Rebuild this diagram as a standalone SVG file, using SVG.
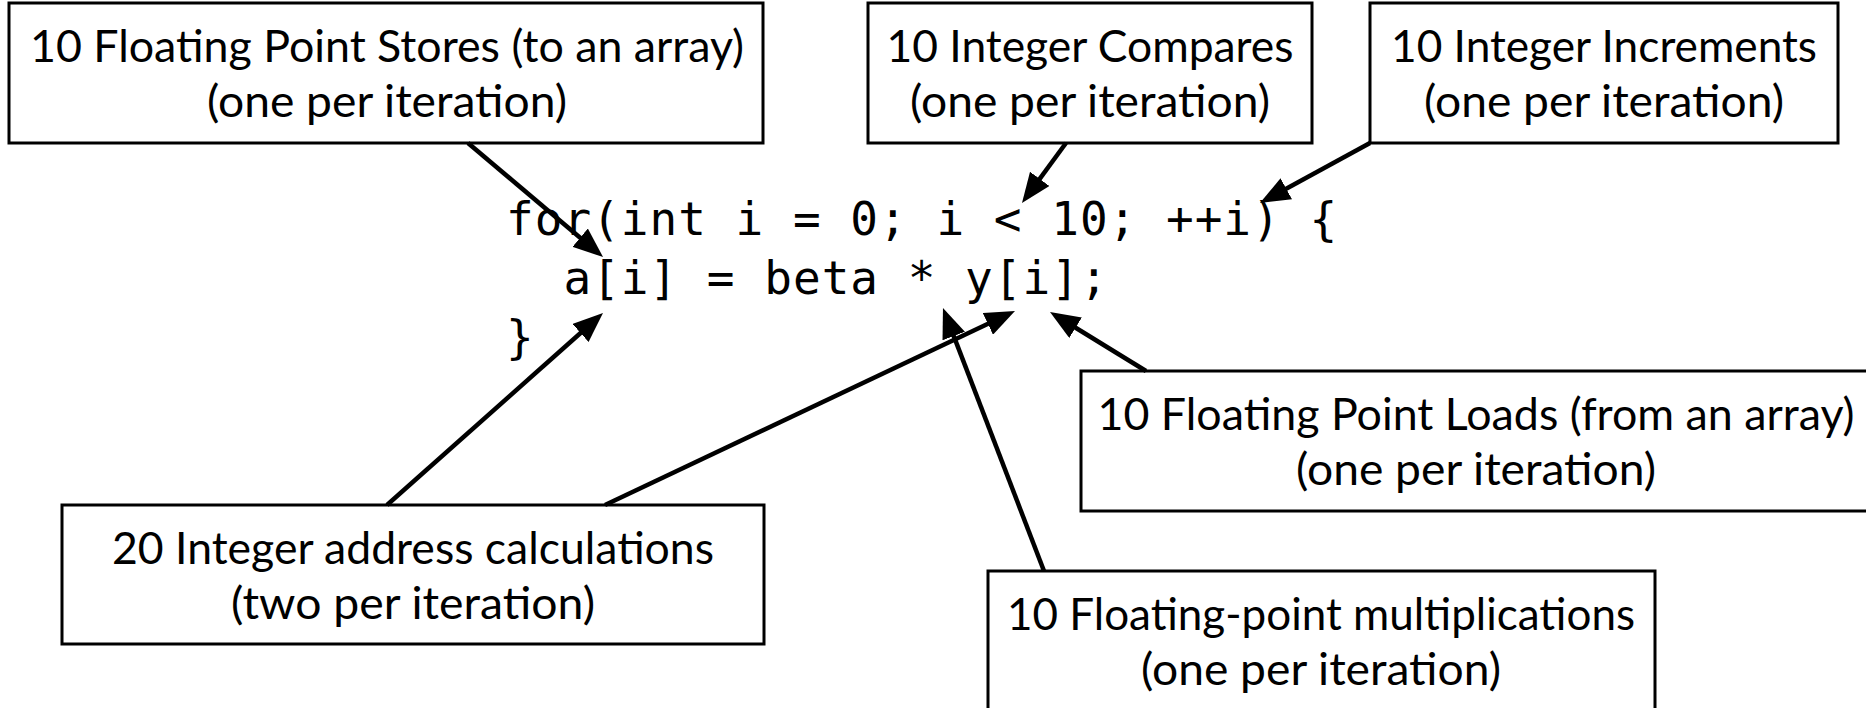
<svg xmlns="http://www.w3.org/2000/svg" width="1866" height="708" viewBox="0 0 1866 708">
  <style>
    .box { fill: #ffffff; stroke: #000000; stroke-width: 3; }
    .lbl { font-family: "Lato", "Open Sans", "Liberation Sans", sans-serif; font-size: 45px; fill: #000000; text-anchor: middle; }
    .code { font-family: "DejaVu Sans Mono", "Liberation Mono", monospace; font-size: 46px; letter-spacing: 1px; fill: #000000; white-space: pre; }
    .conn { stroke: #000000; stroke-width: 4.5; fill: none; marker-end: url(#head); }
  </style>
  <defs>
    <marker id="head" markerUnits="userSpaceOnUse" markerWidth="30" markerHeight="24" refX="9" refY="12" orient="auto">
      <path d="M0,0 L30,12 L0,24 z" fill="#000000"/>
    </marker>
  </defs>
  <rect width="1866" height="708" fill="#ffffff"/>

  <!-- loop source -->
  <g id="code">
    <text class="code" x="506" y="235" xml:space="preserve">for(int i = 0; i &lt; 10; ++i) {</text>
    <text class="code" x="506" y="294" xml:space="preserve">  a[i] = beta * y[i];</text>
    <text class="code" x="506" y="353">}</text>
  </g>

  <g id="fp-stores">
    <rect class="box" x="9" y="3" width="754" height="140"/>
    <text class="lbl" x="387" y="62" textLength="714" lengthAdjust="spacingAndGlyphs">10 Floating Point Stores (to an array)</text>
    <text class="lbl" x="387" y="117" textLength="360" lengthAdjust="spacingAndGlyphs">(one per iteration)</text>
  </g>

  <g id="int-compares">
    <rect class="box" x="868" y="3" width="444" height="140"/>
    <text class="lbl" x="1090" y="62" textLength="407" lengthAdjust="spacingAndGlyphs">10 Integer Compares</text>
    <text class="lbl" x="1090" y="117" textLength="360" lengthAdjust="spacingAndGlyphs">(one per iteration)</text>
  </g>

  <g id="int-increments">
    <rect class="box" x="1370" y="3" width="468" height="140"/>
    <text class="lbl" x="1604" y="62" textLength="426" lengthAdjust="spacingAndGlyphs">10 Integer Increments</text>
    <text class="lbl" x="1604" y="117" textLength="360" lengthAdjust="spacingAndGlyphs">(one per iteration)</text>
  </g>

  <g id="fp-loads">
    <rect class="box" x="1081" y="371" width="790" height="140"/>
    <text class="lbl" x="1476" y="430" textLength="757" lengthAdjust="spacingAndGlyphs">10 Floating Point Loads (from an array)</text>
    <text class="lbl" x="1476" y="485" textLength="360" lengthAdjust="spacingAndGlyphs">(one per iteration)</text>
  </g>

  <g id="int-address">
    <rect class="box" x="62" y="505" width="702" height="139"/>
    <text class="lbl" x="413" y="564" textLength="602" lengthAdjust="spacingAndGlyphs">20 Integer address calculations</text>
    <text class="lbl" x="413" y="619" textLength="364" lengthAdjust="spacingAndGlyphs">(two per iteration)</text>
  </g>

  <g id="fp-mults">
    <rect class="box" x="988" y="571" width="667" height="140"/>
    <text class="lbl" x="1321" y="630" textLength="628" lengthAdjust="spacingAndGlyphs">10 Floating-point multiplications</text>
    <text class="lbl" x="1321" y="685" textLength="360" lengthAdjust="spacingAndGlyphs">(one per iteration)</text>
  </g>

  <!-- connectors: each ends 21px short of its tip, the marker supplies the rest -->
  <g id="connectors">
    <line class="conn" x1="468" y1="143" x2="587.0" y2="243.5"/>
    <line class="conn" x1="1066" y1="143" x2="1034.4" y2="186.1"/>
    <line class="conn" x1="1370" y1="143" x2="1278.4" y2="193.0"/>
    <line class="conn" x1="1146" y1="371" x2="1067.9" y2="323.0"/>
    <line class="conn" x1="1044" y1="571" x2="950.5" y2="327.6"/>
    <line class="conn" x1="605" y1="505" x2="996.0" y2="320.0"/>
    <line class="conn" x1="387" y1="505" x2="587.3" y2="327.0"/>
  </g>
</svg>
